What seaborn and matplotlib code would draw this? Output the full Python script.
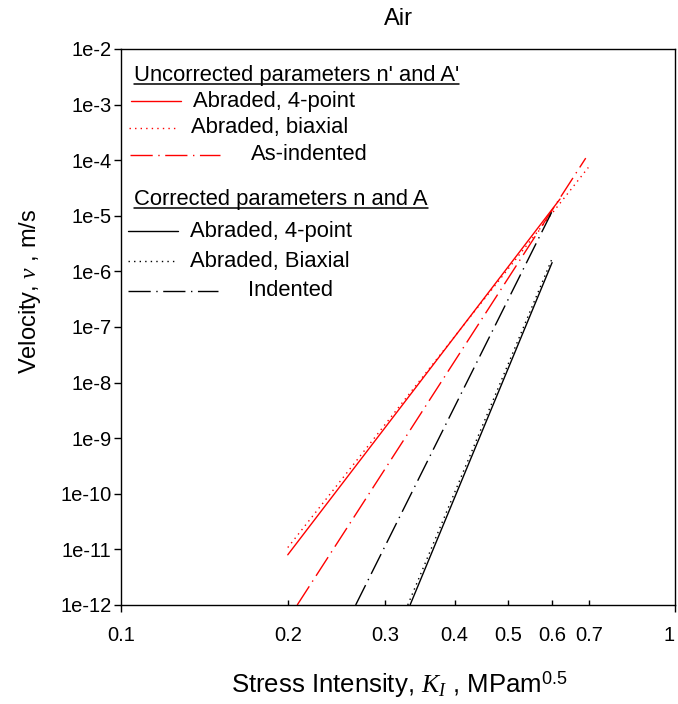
import numpy as np
import pandas as pd
import matplotlib
matplotlib.use("Agg")
import matplotlib.pyplot as plt
from matplotlib.lines import Line2D
from matplotlib.ticker import NullLocator
import seaborn as sns

# Crack-velocity lines v = A * K^n, each one given by its two end points
# (K in MPa·m^0.5, v in m/s)
series = [
    "Abraded, 4-point (n', A')",
    "Abraded, biaxial (n', A')",
    "As-indented (n', A')",
    "Abraded, 4-point (n, A)",
    "Abraded, Biaxial (n, A)",
    "Indented (n, A)",
]
k_start = [0.200, 0.200, 0.208, 0.3325, 0.3293, 0.2652]
v_start = [8.0e-12, 1.08e-11, 1.0e-12, 1.0e-12, 1.0e-12, 1.0e-12]
k_end = [0.62, 0.6975, 0.69, 0.60, 0.60, 0.60]
v_end = [2.0e-5, 7.4e-5, 1.09e-4, 1.44e-6, 1.7e-6, 1.2e-5]

header_uncorr = "Uncorrected parameters n' and A'"
header_corr = "Corrected parameters n and A"
legend_uncorr = ["Abraded, 4-point", "Abraded, biaxial", "As-indented"]
legend_corr = ["Abraded, 4-point", "Abraded, Biaxial", "Indented"]

x_major = [0.1, 1.0]
x_major_labels = ["0.1", "1"]
x_minor = [0.2, 0.3, 0.4, 0.5, 0.6, 0.7]
x_minor_labels = ["0.2", "0.3", "0.4", "0.5", "0.6", "0.7"]
y_exponents = list(range(-12, -1))

# ---------------------------------------------------------------- styling
sns.set_theme(style="white")
plt.rcParams["font.family"] = ["Liberation Sans", "DejaVu Sans"]
plt.rcParams["mathtext.fontset"] = "custom"
plt.rcParams["mathtext.rm"] = "Liberation Sans"
plt.rcParams["mathtext.it"] = "Liberation Serif:italic"
plt.rcParams["mathtext.bf"] = "Liberation Sans:bold"
plt.rcParams["axes.linewidth"] = 1.0
for key in ("text.color", "axes.labelcolor", "xtick.color", "ytick.color", "axes.edgecolor"):
    plt.rcParams[key] = "black"

W, H = 678, 704
fig = plt.figure(figsize=(W / 100, H / 100), dpi=100)
AX_L, AX_R, AX_T, AX_B = 121, 675, 49, 605
ax = fig.add_axes([AX_L / W, 1 - AX_B / H, (AX_R - AX_L) / W, (AX_B - AX_T) / H])

DOT = (1, 3)
DASHDOT = (16, 4, 1, 4)
colors = ["red", "red", "red", "black", "black", "black"]
patterns = ["", DOT, DASHDOT, "", DOT, DASHDOT]

rows = []
for s, k0, v0, k1, v1 in zip(series, k_start, v_start, k_end, v_end):
    rows.append({"series": s, "K": k0, "v": v0})
    rows.append({"series": s, "K": k1, "v": v1})
df = pd.DataFrame(rows)

sns.lineplot(
    data=df, x="K", y="v", hue="series", style="series",
    hue_order=series, style_order=series,
    palette=dict(zip(series, colors)), dashes=dict(zip(series, patterns)),
    linewidth=1.0, estimator=None, sort=False, legend=False, ax=ax,
)

ax.set_xscale("log")
ax.set_yscale("log")
ax.set_xlim(0.1, 1.0)
ax.set_ylim(1e-12, 1e-2)
ax.set_xlabel("")
ax.set_ylabel("")

ax.set_yticks([10.0 ** e for e in y_exponents], labels=[f"1e{e}" for e in y_exponents])
ax.yaxis.set_minor_locator(NullLocator())
ax.set_xticks(x_major, labels=x_major_labels)
ax.set_xticks(x_minor, labels=x_minor_labels, minor=True)

ax.tick_params(axis="y", which="major", direction="out", length=5, width=1.0,
               labelsize=14.5, pad=2, left=True, right=False)
ax.tick_params(axis="x", which="major", direction="out", length=5, width=1.0,
               labelsize=14.5, pad=10, bottom=True, top=False)
ax.tick_params(axis="x", which="minor", direction="in", length=3.5, width=1.0,
               labelsize=14.5, pad=15, bottom=True, top=False)
# keep the "1" at the right end inside the figure
ax.get_xticklabels()[-1].set_horizontalalignment("right")
for sp in ax.spines.values():
    sp.set_linewidth(1.0)

# titles and axis labels
fig.text(398 / W, 1 - 19 / H, "Air", ha="center", va="center", fontsize=17)
fig.text(399 / W, 1 - 685 / H, r"Stress Intensity, $K_I$ , MPam$^{0.5}$",
         ha="center", va="center", fontsize=18.5)
fig.text(30 / W, 1 - 291 / H, r"Velocity, $v$ , m/s", rotation=90,
         ha="center", va="center", fontsize=17)


# ---------------------------------------------------------------- legend
def axfrac(px, py):
    return (px - AX_L) / (AX_R - AX_L), (AX_B - py) / (AX_B - AX_T)


LEG_FS = 15.8


def sample(x0, x1, y, color, pattern):
    (fx0, fy), (fx1, _) = axfrac(x0, y), axfrac(x1, y)
    ls = "-" if pattern == "" else (0, pattern)
    ax.add_line(Line2D([fx0, fx1], [fy, fy], transform=ax.transAxes, color=color,
                       lw=1.0, linestyle=ls, clip_on=False))


def label(x, y, text):
    fx, fy = axfrac(x, y)
    return ax.text(fx, fy, text, transform=ax.transAxes, ha="left", va="center",
                   fontsize=LEG_FS)


headers = [label(134, 75, header_uncorr), label(134, 199, header_corr)]

rows_u = [(101, 131, 181, 193), (128, 129, 176, 191), (155, 130, 220, 251)]
rows_c = [(231, 128, 178, 190), (261, 128, 176, 190), (291, 128, 218, 248)]
for (y, x0, x1, tx), name, pat in zip(rows_u, legend_uncorr, patterns[:3]):
    sample(x0, x1, y, "red", pat)
    label(tx, y, name)
for (y, x0, x1, tx), name, pat in zip(rows_c, legend_corr, patterns[3:]):
    sample(x0, x1, y, "black", pat)
    label(tx, y, name)

# underline the two group headers
fig.canvas.draw()
renderer = fig.canvas.get_renderer()
inv = ax.transAxes.inverted()
for t in headers:
    bb = t.get_window_extent(renderer)
    (ux0, uy), (ux1, _) = inv.transform([(bb.x0, bb.y0 + 2.0), (bb.x1, bb.y0 + 2.0)])
    ax.add_line(Line2D([ux0, ux1], [uy, uy], transform=ax.transAxes, color="black",
                       lw=1.1, clip_on=False))

fig.savefig("out.png", dpi=100)
